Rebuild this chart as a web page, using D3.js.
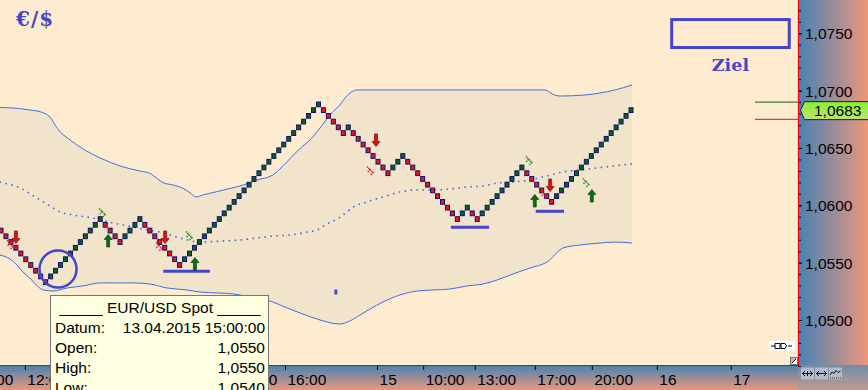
<!DOCTYPE html>
<html>
<head>
<meta charset="utf-8">
<script src="https://cdn.jsdelivr.net/npm/d3@7"></script>
<style>
  body { margin: 0; background: #ffecd0; }
  svg { display: block; }
</style>
</head>
<body>
<div id="chart"></div>
<script>
// EUR/USD renko, brick size 5 pips
const brickSize = 0.0005;
const brickClose = [
  1.0578, 1.0573, 1.0568, 1.0563, 1.0558, 1.0553, 1.0548, 1.0543, 1.0538, 1.0533,
  1.0538, 1.0543, 1.0548, 1.0553, 1.0558, 1.0563, 1.0568, 1.0573, 1.0578, 1.0583, 1.0588,
  1.0583, 1.0578, 1.0573, 1.0568,
  1.0573, 1.0578, 1.0583, 1.0588,
  1.0583, 1.0578, 1.0573, 1.0568, 1.0563, 1.0558, 1.0553, 1.0548,
  1.0553, 1.0558, 1.0563, 1.0568, 1.0573, 1.0578, 1.0583, 1.0588, 1.0593, 1.0598,
  1.0603, 1.0608, 1.0613, 1.0618, 1.0623, 1.0628, 1.0633, 1.0638, 1.0643, 1.0648,
  1.0653, 1.0658, 1.0663, 1.0668, 1.0673, 1.0678, 1.0683, 1.0688,
  1.0683, 1.0678, 1.0673, 1.0668, 1.0663,
  1.0668,
  1.0663, 1.0658, 1.0653, 1.0648, 1.0643, 1.0638, 1.0633, 1.0628,
  1.0633, 1.0638, 1.0643,
  1.0638, 1.0633, 1.0628, 1.0623, 1.0618, 1.0613, 1.0608, 1.0603, 1.0598, 1.0593, 1.0588,
  1.0593, 1.0598,
  1.0593, 1.0588,
  1.0593, 1.0598, 1.0603, 1.0608, 1.0613, 1.0618, 1.0623, 1.0628, 1.0633,
  1.0628, 1.0623, 1.0618, 1.0613, 1.0608, 1.0603,
  1.0608, 1.0613, 1.0618, 1.0623, 1.0628, 1.0633, 1.0638, 1.0643, 1.0648, 1.0653,
  1.0658, 1.0663, 1.0668, 1.0673, 1.0678, 1.0683
];

// bollinger bands (brick index, price)
const upperIdx = [-0.3, 3.2, 5.8, 7.9, 9.9, 10.9, 11.9, 13.5, 16.9, 20.0, 24.0, 28.0, 30.0, 31.4, 32.7,
  34.7, 36.7, 38.1, 39.3, 40.7, 43.5, 46.2, 48.2, 51.6, 54.8, 57.6, 60.3, 62.3, 64.3, 66.3,
  68.3, 69.9, 71.8, 109.7, 111.1, 112.7, 117.7, 120.7, 123.8, 127.2];
const upperVal = [1.06853, 1.06846, 1.06831, 1.06816, 1.06768, 1.06700, 1.06642, 1.06584, 1.06482, 1.06413,
  1.06343, 1.06299, 1.06279, 1.06236, 1.06197, 1.06177, 1.06148, 1.06110, 1.06073, 1.06090,
  1.06119, 1.06148, 1.06168, 1.06221, 1.06264, 1.06378, 1.06497, 1.06570, 1.06674, 1.06788,
  1.06875, 1.06962, 1.07006, 1.07006, 1.06971, 1.06953, 1.06962, 1.06979, 1.07006, 1.07049];

const midIdx = [-0.3, 3.8, 7.9, 9.9, 11.9, 14.5, 18.5, 22.6, 26.6, 29.4, 32.1, 36.1, 40.1, 44.7, 48.2,
  51.6, 54.8, 58.3, 61.7, 63.7, 65.7, 68.1, 69.7, 71.0, 73.8, 77.0, 80.4, 83.9, 87.1, 90.5,
  93.9, 97.2, 100.0, 103.2, 106.6, 110.1, 113.3, 116.7, 120.1, 123.4, 127.2];
const midVal = [1.06203, 1.06151, 1.06046, 1.05994, 1.05942, 1.05916, 1.05889, 1.05846, 1.05811, 1.05785,
  1.05767, 1.05715, 1.05680, 1.05689, 1.05698, 1.05715, 1.05732, 1.05741, 1.05767, 1.05785,
  1.05837, 1.05889, 1.05942, 1.05985, 1.06029, 1.06073, 1.06116, 1.06134, 1.06134, 1.06142,
  1.06160, 1.06168, 1.06195, 1.06203, 1.06221, 1.06256, 1.06291, 1.06308, 1.06325, 1.06343, 1.06360];

const lowerIdx = [-0.3, 1.8, 3.2, 4.4, 5.8, 7.3, 8.5, 10.5, 13.3, 16.5, 20.0, 26.6, 30.0, 33.5, 37.5,
  40.1, 44.1, 46.8, 50.2, 53.6, 57.7, 60.3, 64.3, 68.3, 70.3, 72.4, 74.4, 77.0, 80.4, 83.9,
  87.1, 90.5, 93.9, 97.2, 100.0, 103.2, 106.6, 110.1, 113.3, 116.7, 120.7, 123.8, 127.2];
const lowerVal = [1.05567, 1.05532, 1.05480, 1.05419, 1.05366, 1.05297, 1.05262, 1.05253, 1.05279, 1.05297,
  1.05323, 1.05323, 1.05314, 1.05279, 1.05262, 1.05244, 1.05235, 1.05227, 1.05201, 1.05174,
  1.05105, 1.05061, 1.05000, 1.04965, 1.04991, 1.05044, 1.05096, 1.05157, 1.05218, 1.05253,
  1.05262, 1.05270, 1.05297, 1.05314, 1.05349, 1.05401, 1.05453, 1.05506, 1.05628, 1.05654,
  1.05671, 1.05680, 1.05671];

// signals
const upArrows = [[21.6, 1.05689], [39.1, 1.05488], [107.6, 1.06038], [119.1, 1.06081]];
const downArrows = [[3.0, 1.05724], [33.1, 1.05724], [75.6, 1.06570], [110.7, 1.06177]];
const upChevrons = [[20.4, 1.05933], [37.9, 1.05732], [106.4, 1.06387], [117.9, 1.06195]];
const downChevrons = [[1.8, 1.05654], [31.8, 1.05637], [74.4, 1.06299], [109.5, 1.06090]];
const supportLines = [[32.7, 42.1, 1.05425], [90.7, 98.4, 1.05808], [107.8, 113.5, 1.05948]];
const circleMark = [11.5, 1.05445];
const dotMark = [67.5, 1.05244];
const targetBox = [134.9, 159.2, 1.07633, 1.07363];
const targetLabel = [147.05, 1.07171, "Ziel"];
const lastPrice = 1.0683;
const stopUp = 1.0690, stopDown = 1.0675;

// axes
const yMajor = [1.050, 1.055, 1.060, 1.065, 1.070, 1.075];
const xTickIdx = [-5.85, 4.8, 47.4, 57.25, 75.8, 85.1, 95.5, 107.6, 119.1, 132.2, 147.1];
const xTickLabels = ["10:00", "12:00", "10:00", "16:00", "15", "10:00", "13:00", "17:00", "20:00", "16", "17"];

const width = 868, height = 390;
const plotW = 798, plotH = 365;
const font = "'Liberation Sans', Arial, sans-serif";

const svg = d3.select("#chart").append("svg")
  .attr("width", width)
  .attr("height", height);

const defs = svg.append("defs");
const gH = defs.append("linearGradient").attr("id", "gradH").attr("x1", 0).attr("x2", 1).attr("y1", 0).attr("y2", 0);
gH.append("stop").attr("offset", 0).attr("stop-color", "#4682b4");
gH.append("stop").attr("offset", 1).attr("stop-color", "#ec977b");
const gV = defs.append("linearGradient").attr("id", "gradV").attr("x1", 0).attr("x2", 0).attr("y1", 0).attr("y2", 1);
gV.append("stop").attr("offset", 0).attr("stop-color", "#4682b4");
gV.append("stop").attr("offset", 1).attr("stop-color", "#ec977b");
const gC = defs.append("linearGradient").attr("id", "gradC").attr("x1", 0).attr("x2", 0).attr("y1", 0).attr("y2", 1);
gC.append("stop").attr("offset", 0).attr("stop-color", "#6f8cab");
gC.append("stop").attr("offset", 1).attr("stop-color", "#c09a8e");
const gL = defs.append("linearGradient").attr("id", "gradL").attr("x1", 0).attr("x2", 0).attr("y1", 0).attr("y2", 1);
gL.append("stop").attr("offset", 0).attr("stop-color", "#86f22a");
gL.append("stop").attr("offset", 1).attr("stop-color", "#bfe07a");
defs.append("clipPath").attr("id", "plotClip")
  .append("rect").attr("x", 0).attr("y", 0).attr("width", plotW).attr("height", plotH);

// background
svg.append("rect").attr("width", plotW).attr("height", plotH).attr("fill", "#ffecd0");

const x = d3.scaleLinear().domain([0, 127]).range([1, 631]);
const y = d3.scaleLinear().domain([1.05, 1.075]).range([320, 33.3]);

const plot = svg.append("g").attr("clip-path", "url(#plotClip)");

const upperPts = upperIdx.map((d, i) => [x(d), y(upperVal[i])]);
const midPts = midIdx.map((d, i) => [x(d), y(midVal[i])]);
const lowerPts = lowerIdx.map((d, i) => [x(d), y(lowerVal[i])]);
const bandLine = d3.line().curve(d3.curveMonotoneX);

// band fill: upper forward, lower backward
const lowerRev = lowerPts.slice().reverse();
const fillPath = bandLine(upperPts) + "L" + d3.line().curve(d3.curveMonotoneX)(lowerRev).slice(1) + "Z";
plot.append("path").attr("d", fillPath).attr("fill", "#f1e4cb").attr("stroke", "none");

plot.append("path").attr("d", bandLine(upperPts))
  .attr("fill", "none").attr("stroke", "#3f6fe3").attr("stroke-width", 1);
plot.append("path").attr("d", bandLine(lowerPts))
  .attr("fill", "none").attr("stroke", "#3f6fe3").attr("stroke-width", 1);
plot.append("path").attr("d", bandLine(midPts))
  .attr("fill", "none").attr("stroke", "#3f6fe3").attr("stroke-width", 1.6)
  .attr("stroke-dasharray", "1.6,4.4");

// bricks
const lh = y(1.05) - y(1.05 + brickSize);
plot.selectAll(".brick")
  .data(brickClose)
  .enter()
  .append("rect")
  .attr("class", "brick")
  .attr("x", (d, i) => x(i) - 2)
  .attr("y", d => y(d) - lh / 2 + 0.5)
  .attr("width", 4)
  .attr("height", lh - 1)
  .attr("fill", (d, i) => {
    const prev = i === 0 ? d + brickSize : brickClose[i - 1];
    return d > prev ? "#0a640f" : "#f01414";
  })
  .attr("stroke", "#101070")
  .attr("stroke-width", 1);

// support lines and circle
const blue = "#4444cf";
supportLines.forEach(s => {
  plot.append("line")
    .attr("x1", x(s[0])).attr("x2", x(s[1]))
    .attr("y1", y(s[2])).attr("y2", y(s[2]))
    .attr("stroke", blue).attr("stroke-width", 3);
});
plot.append("circle")
  .attr("cx", x(circleMark[0])).attr("cy", y(circleMark[1]))
  .attr("r", 18.5)
  .attr("fill", "none").attr("stroke", blue).attr("stroke-width", 2.5);
plot.append("rect")
  .attr("x", x(dotMark[0]) - 1.5).attr("y", y(dotMark[1]) - 2.5)
  .attr("width", 3).attr("height", 5).attr("fill", "#3a50c8");

// arrows
const upPath = "M0,-6.5L4,-1.5L1.5,-1.5L1.5,6L-1.5,6L-1.5,-1.5L-4,-1.5Z";
const downPath = "M0,6.5L4,1.5L1.5,1.5L1.5,-6L-1.5,-6L-1.5,1.5L-4,1.5Z";
upArrows.forEach(a => {
  plot.append("path").attr("d", upPath)
    .attr("transform", `translate(${x(a[0])},${y(a[1])})`)
    .attr("fill", "#0e6a12").attr("stroke", "#074a0a").attr("stroke-width", 0.7);
});
downArrows.forEach(a => {
  plot.append("path").attr("d", downPath)
    .attr("transform", `translate(${x(a[0])},${y(a[1])})`)
    .attr("fill", "#d41414").attr("stroke", "#8a0a0a").attr("stroke-width", 0.7);
});

// chevrons (checkered double >)
const chevPath = "M-3,-4.5L0,-1.5L-3,1.5M0,-1.5L3,1.5L0,4.5";
upChevrons.forEach(c => {
  plot.append("path").attr("d", chevPath)
    .attr("transform", `translate(${x(c[0])},${y(c[1])})`)
    .attr("fill", "none").attr("stroke", "#128a12").attr("stroke-width", 1.6)
    .attr("stroke-dasharray", "1.2,0.9");
});
downChevrons.forEach(c => {
  plot.append("path").attr("d", chevPath)
    .attr("transform", `translate(${x(c[0])},${y(c[1])})`)
    .attr("fill", "none").attr("stroke", "#e81a1a").attr("stroke-width", 1.6)
    .attr("stroke-dasharray", "1.2,0.9");
});

// target box
plot.append("rect")
  .attr("x", x(targetBox[0]) + 1.5).attr("y", y(targetBox[2]) + 1.5)
  .attr("width", x(targetBox[1]) - x(targetBox[0]) - 3)
  .attr("height", y(targetBox[3]) - y(targetBox[2]) - 3)
  .attr("fill", "none").attr("stroke", blue).attr("stroke-width", 3);
plot.append("text")
  .attr("x", x(targetLabel[0])).attr("y", y(targetLabel[1]))
  .attr("text-anchor", "middle")
  .attr("font-family", "'DejaVu Serif', serif").attr("font-weight", "bold")
  .attr("font-size", 17.5).attr("fill", blue)
  .text(targetLabel[2]);

plot.append("text")
  .attr("x", 16).attr("y", 26)
  .attr("font-family", "'DejaVu Serif', serif").attr("font-weight", "bold")
  .attr("font-size", 20).attr("fill", blue).attr("letter-spacing", 1)
  .text("€/$");

// stop lines near the axis
plot.append("line").attr("x1", 755).attr("x2", plotW)
  .attr("y1", y(stopUp)).attr("y2", y(stopUp))
  .attr("stroke", "#0a6a0a").attr("stroke-width", 1);
plot.append("line").attr("x1", 755).attr("x2", plotW)
  .attr("y1", y(stopDown)).attr("y2", y(stopDown))
  .attr("stroke", "#e01010").attr("stroke-width", 1);

// little icons in plot corner
const ic = svg.append("g");
ic.append("rect").attr("x", 769).attr("y", 341).attr("width", 26).attr("height", 10).attr("fill", "#ffffff");
ic.append("path").attr("d", "M771,346H775M775,343.5H780V348.5H775ZM781,343.5H785Q788,346 785,348.5H781ZM788,346H792")
  .attr("fill", "none").attr("stroke", "#000").attr("stroke-width", 1);
ic.append("rect").attr("x", 790.5).attr("y", 357.5).attr("width", 7).attr("height", 7).attr("fill", "#b8b8b8").attr("stroke", "#777");
ic.append("path").attr("d", "M791,364L797,358L797,364Z").attr("fill", "#fff");
ic.append("path").attr("d", "M792,363L796,359").attr("stroke", "#000").attr("stroke-width", 1);

// right axis panel
svg.append("rect").attr("x", plotW).attr("y", 0).attr("width", width - plotW).attr("height", plotH)
  .attr("fill", "url(#gradH)");
// bottom axis panel
svg.append("rect").attr("x", 0).attr("y", plotH).attr("width", plotW).attr("height", height - plotH)
  .attr("fill", "url(#gradV)");
svg.append("rect").attr("x", plotW).attr("y", plotH).attr("width", width - plotW).attr("height", height - plotH)
  .attr("fill", "url(#gradC)");

const fmt = d => d3.format(".4f")(d).replace(".", ",");

// minor ticks
const yMinor = d3.range(1046, 1078).map(d => d / 1000);
svg.append("g")
  .attr("transform", `translate(${plotW},0)`)
  .call(d3.axisRight(y).tickValues(yMinor).tickSize(3).tickFormat(""))
  .call(g => g.select(".domain").remove())
  .call(g => g.selectAll("line").attr("stroke", "#000"));

const yAxis = svg.append("g")
  .attr("transform", `translate(${plotW},0)`)
  .call(d3.axisRight(y).tickValues(yMajor).tickSize(4).tickFormat(fmt))
  .call(g => g.select(".domain").remove());
yAxis.selectAll("line").attr("stroke", "#000");
yAxis.selectAll("text")
  .attr("x", 7).attr("dy", "0.35em")
  .attr("font-family", font).attr("font-size", 15.5).attr("fill", "#000");

const xAxis = svg.append("g")
  .attr("transform", `translate(0,${plotH})`)
  .call(d3.axisBottom(x).tickValues(xTickIdx).tickSize(4).tickFormat((d, i) => xTickLabels[i]))
  .call(g => g.select(".domain").remove());
xAxis.selectAll("line").attr("stroke", "#000").attr("transform", "translate(0,1)");
xAxis.selectAll("text")
  .attr("text-anchor", "start").attr("x", 2).attr("y", 19.5).attr("dy", 0)
  .attr("font-family", font).attr("font-size", 15.5).attr("fill", "#000");

// red frame lines
svg.append("line").attr("x1", plotW + 0.5).attr("x2", plotW + 0.5).attr("y1", 0).attr("y2", plotH + 1)
  .attr("stroke", "#ff0000").attr("stroke-width", 1.2);
svg.append("line").attr("x1", 0).attr("x2", plotW + 1).attr("y1", plotH + 0.5).attr("y2", plotH + 0.5)
  .attr("stroke", "#e00000").attr("stroke-width", 1.2);

// last price tag
const ty = y(lastPrice);
svg.append("path")
  .attr("d", `M${plotW + 2.5},${ty}L${plotW + 6.5},${ty - 8.5}H${width + 2}V${ty + 9.5}H${plotW + 6.5}Z`)
  .attr("fill", "url(#gradL)").attr("stroke", "#141470").attr("stroke-width", 1);
svg.append("text")
  .attr("x", plotW + 16).attr("y", ty + 6)
  .attr("font-family", font).attr("font-size", 15.5).attr("fill", "#000")
  .text(fmt(lastPrice));

// corner buttons
[801, 815, 829].forEach((bx, i) => {
  svg.append("rect").attr("x", bx).attr("y", 367.5).attr("width", 13).attr("height", 12)
    .attr("fill", "#b7c3d0").attr("opacity", 0.85);
});
svg.append("path").attr("d", "M802.5,373.5H812.5M810,371L812.5,373.5L810,376M807.5,371V376M805,371L802.5,373.5L805,376")
  .attr("fill", "none").attr("stroke", "#000").attr("stroke-width", 0.9);
svg.append("path").attr("d", "M816.5,373.5H826.5M819,371L816.5,373.5L819,376M824,371L826.5,373.5L824,376")
  .attr("fill", "none").attr("stroke", "#000").attr("stroke-width", 0.9);
svg.append("path").attr("d", "M830,375L832,372L834,373.5L836,370.5L838,372.5L840.5,371")
  .attr("fill", "none").attr("stroke", "#000").attr("stroke-width", 0.9);
svg.append("path").attr("d", "M830,378H841").attr("stroke", "#333").attr("stroke-dasharray", "1,1");

// tooltip
const tip = svg.append("g");
tip.append("rect").attr("x", 50.5).attr("y", 295.5).attr("width", 218).attr("height", 100)
  .attr("fill", "#ffffe1").attr("stroke", "#767676").attr("stroke-width", 1);
tip.append("text").attr("x", 160).attr("y", 312.5).attr("text-anchor", "middle")
  .attr("font-family", font).attr("font-size", 15.5).attr("fill", "#000")
  .text("_____ EUR/USD Spot _____");
const tipRows = [["Datum:", "13.04.2015 15:00:00"], ["Open:", "1,0550"], ["High:", "1,0550"], ["Low:", "1,0540"]];
tipRows.forEach((r, i) => {
  tip.append("text").attr("x", 55).attr("y", 333 + i * 20)
    .attr("font-family", font).attr("font-size", 15.5).attr("fill", "#000").text(r[0]);
  tip.append("text").attr("x", 265).attr("y", 333 + i * 20).attr("text-anchor", "end")
    .attr("font-family", font).attr("font-size", 15.5).attr("fill", "#000").text(r[1]);
});
</script>
</body>
</html>
